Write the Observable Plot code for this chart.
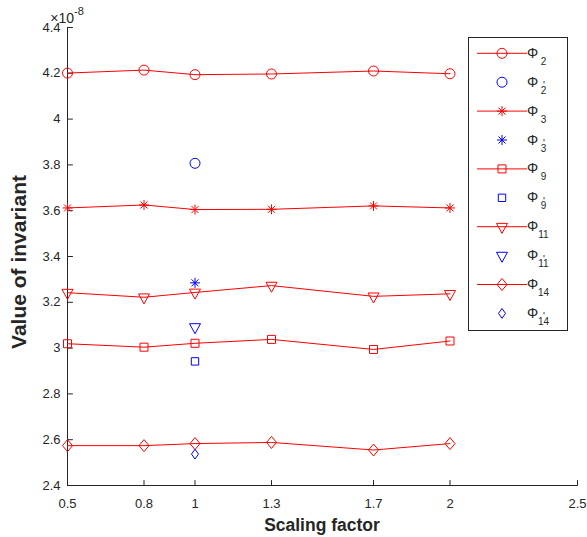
<!DOCTYPE html>
<html><head><meta charset="utf-8">
<script src="https://cdn.jsdelivr.net/npm/d3@7"></script>
<script src="https://cdn.jsdelivr.net/npm/@observablehq/plot@0.6"></script>
<style>body{margin:0;background:#fff;}</style>
</head><body><div id="chart"></div>
<script>
// Data (values ×10^-8)
const scalingFactors = [0.5, 0.8, 1, 1.3, 1.7, 2];
const phi2  = [4.201, 4.214, 4.194, 4.197, 4.210, 4.198];
const phi3  = [3.612, 3.625, 3.605, 3.606, 3.621, 3.612];
const phi9  = [3.019, 3.004, 3.021, 3.038, 2.994, 3.031];
const phi11 = [3.242, 3.222, 3.243, 3.273, 3.226, 3.237];
const phi14 = [2.574, 2.574, 2.583, 2.588, 2.555, 2.583];
const primeFactor = 1;
const phi2p = 3.807, phi3p = 3.285, phi9p = 2.942, phi11p = 3.092, phi14p = 2.537;
const xTicks = [0.5, 0.8, 1, 1.3, 1.7, 2, 2.5];
const yTicks = [2.4, 2.6, 2.8, 3, 3.2, 3.4, 3.6, 3.8, 4, 4.2, 4.4];
const legendNames = ["2", "2", "3", "3", "9", "9", "11", "11", "14", "14"];

const RED = "#ff0000", BLUE = "#0000ff", INK = "#262626";
const FONT = "'Liberation Sans', Arial, Helvetica, sans-serif";

// MATLAB-like marker symbols
const sym = f => ({draw(c, size) { f(c, Math.sqrt(size / Math.PI)); }});
const circleSym = sym((c, r) => { c.moveTo(r, 0); c.arc(0, 0, r, 0, 2 * Math.PI); });
const squareSym = sym((c, r) => { c.moveTo(-r, -r); c.lineTo(r, -r); c.lineTo(r, r); c.lineTo(-r, r); c.closePath(); });
const triDownSym = sym((c, r) => { const h = 2 * r, w = 1.1 * r; c.moveTo(-w, -h / 3); c.lineTo(w, -h / 3); c.lineTo(0, 2 * h / 3); c.closePath(); });
const diamondSym = sym((c, r) => { const h = 1.2 * r; c.moveTo(0, -h); c.lineTo(r, 0); c.lineTo(0, h); c.lineTo(-r, 0); c.closePath(); });
const diamondSmallSym = sym((c, r) => { const h = 1.4 * r; c.moveTo(0, -h); c.lineTo(r, 0); c.lineTo(0, h); c.lineTo(-r, 0); c.closePath(); });
const asteriskSym = sym((c, r) => { const d = r * 0.7; c.moveTo(0, -r); c.lineTo(0, r); c.moveTo(-r, 0); c.lineTo(r, 0); c.moveTo(-d, -d); c.lineTo(d, d); c.moveTo(-d, d); c.lineTo(d, -d); });
const tickShape = {draw(c, l) { c.moveTo(0, 0); c.lineTo(0, -l); }};

const series = [
  {vals: phi2, symbol: circleSym, r: 5, p: phi2p, psym: circleSym, pr: 5},
  {vals: phi3, symbol: asteriskSym, r: 5, p: phi3p, psym: asteriskSym, pr: 5},
  {vals: phi9, symbol: squareSym, r: 4, p: phi9p, psym: squareSym, pr: 3.7},
  {vals: phi11, symbol: triDownSym, r: 5, p: phi11p, psym: triDownSym, pr: 5},
  {vals: phi14, symbol: diamondSym, r: 5, p: phi14p, psym: diamondSmallSym, pr: 3.5}
];

const marks = [
  Plot.ruleY([2.4], {stroke: INK}),
  Plot.ruleX([0.5], {stroke: INK}),
  Plot.axisX({ticks: xTicks, tickSize: 0, tickPadding: 13, tickFormat: d => String(d), label: null, fill: INK, fontSize: 13}),
  Plot.axisY({ticks: yTicks, tickSize: 0, tickPadding: 7, tickFormat: d => String(+d.toFixed(1)), label: null, fill: INK, fontSize: 13}),
  // inward tick marks (MATLAB style)
  Plot.vector(xTicks, {x: d => d, frameAnchor: "bottom", length: 5, rotate: 0, anchor: "start", shape: tickShape, stroke: INK, strokeWidth: 1}),
  Plot.vector(yTicks, {y: d => d, frameAnchor: "left", length: 5, rotate: 90, anchor: "start", shape: tickShape, stroke: INK, strokeWidth: 1})
];
for (const s of series) {
  const data = scalingFactors.map((x, i) => ({x, y: s.vals[i]}));
  marks.push(Plot.line(data, {x: "x", y: "y", stroke: RED, strokeWidth: 1}));
  marks.push(Plot.dot(data, {x: "x", y: "y", symbol: s.symbol, r: s.r, stroke: RED, fill: "none", strokeWidth: 1}));
  marks.push(Plot.dot([{x: primeFactor, y: s.p}], {x: "x", y: "y", symbol: s.psym, r: s.pr, stroke: BLUE, fill: "none", strokeWidth: 1}));
}

const chart = Plot.plot({
  width: 587, height: 537,
  marginLeft: 67, marginRight: 10, marginTop: 27, marginBottom: 52,
  style: {fontFamily: FONT, fontSize: "13px", color: INK, background: "#fff", overflow: "visible"},
  x: {domain: [0.5, 2.5]},
  y: {domain: [2.4, 4.4]},
  marks
});
document.getElementById("chart").appendChild(chart);

// Extra annotations
const svg = d3.select(chart);
// exponent
const ex = svg.append("text").attr("x", 67).attr("y", 23).attr("fill", INK).style("font-family", FONT).style("font-size", "14px");
ex.append("tspan").text("×10");
ex.append("tspan").attr("dy", -8).style("font-size", "11px").text("-8");
// axis labels
svg.append("text").attr("x", 322).attr("y", 530.5).attr("text-anchor", "middle").attr("fill", INK)
  .style("font-family", FONT).style("font-size", "17.5px").style("font-weight", "bold").text("Scaling factor");
svg.append("text").attr("transform", "translate(26,262) rotate(-90)").attr("text-anchor", "middle").attr("fill", INK)
  .style("font-family", FONT).style("font-size", "21px").style("font-weight", "bold").text("Value of invariant");

// legend
const lg = svg.append("g");
lg.append("rect").attr("x", 468.5).attr("y", 37.5).attr("width", 99).attr("height", 293)
  .attr("fill", "#fff").attr("stroke", INK).attr("stroke-width", 1);
const legendSyms = [];
series.forEach(s => { legendSyms.push({sym: s.symbol, r: s.r, color: RED, line: true}); legendSyms.push({sym: s.psym, r: s.pr, color: BLUE, line: false}); });
legendSyms.forEach((e, i) => {
  const yc = 53.3 + i * 28.9;
  if (e.line) lg.append("line").attr("x1", 477).attr("x2", 527).attr("y1", yc).attr("y2", yc).attr("stroke", RED);
  lg.append("path").attr("transform", `translate(502,${yc})`)
    .attr("d", d3.symbol(e.sym, Math.PI * e.r * e.r)()).attr("fill", "none").attr("stroke", e.color);
  const t = lg.append("text").attr("x", 532.5).attr("y", yc + 4.5).attr("fill", INK).style("font-family", FONT).style("font-size", "14px");
  t.append("tspan").text("Φ");
  if (!e.line) {
    t.append("tspan").attr("x", 544).attr("y", yc + 7).style("font-size", "10px").text("'");
  }
  t.append("tspan").attr("x", 543.5).attr("y", yc + 11.5).style("font-size", "10px").text(legendNames[i]);
});
</script>
</body></html>
